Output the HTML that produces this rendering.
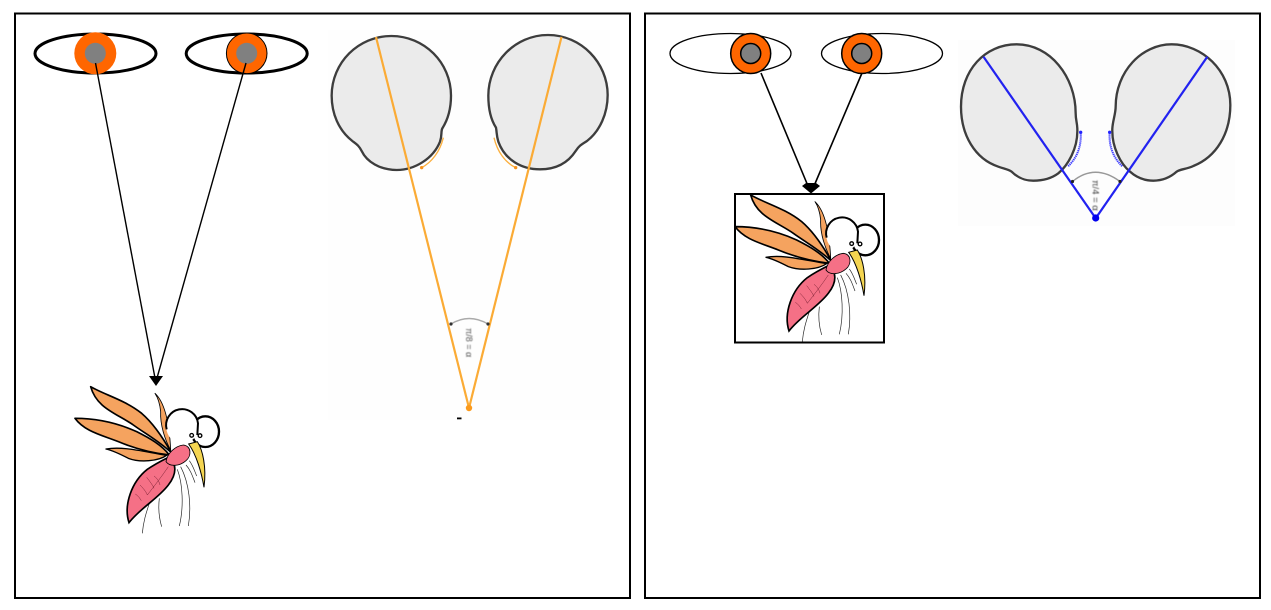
<!DOCTYPE html>
<html>
<head>
<meta charset="utf-8">
<style>
html,body{margin:0;padding:0;background:#fff;width:1271px;height:610px;overflow:hidden}
svg{display:block}
text{font-family:"Liberation Sans",sans-serif}
</style>
</head>
<body>
<svg width="1271" height="610" viewBox="0 0 1271 610" xmlns="http://www.w3.org/2000/svg">
<defs>
<filter id="b" x="-5%" y="-5%" width="110%" height="110%"><feGaussianBlur stdDeviation="0.5"/></filter>
<filter id="b2" x="-30%" y="-30%" width="160%" height="160%"><feGaussianBlur stdDeviation="0.35"/></filter>
<filter id="b3" x="-30%" y="-30%" width="160%" height="160%"><feGaussianBlur stdDeviation="0.45"/></filter>
<g id="mosq" filter="url(#b2)">
  <g stroke="#000" stroke-linejoin="round">
    <path d="M92,50 C135,75 195,90 245,130 C280,160 310,205 334,248 C295,212 262,195 220,165 C170,130 110,115 92,50Z" fill="#f5a35f" stroke-width="5"/>
    <path d="M45,145 C115,145 175,160 230,185 C270,205 305,225 328,255 C285,250 235,240 175,215 C125,195 75,185 45,145Z" fill="#f5a35f" stroke-width="5"/>
    <path d="M138,237 C190,228 250,245 320,256 C295,274 240,278 205,265 C180,252 160,242 138,237Z" fill="#f5a35f" stroke-width="4"/>
    <path d="M285,70 C312,95 328,155 332,240 C315,210 300,165 302,125 C300,105 295,85 285,70Z" fill="#f5a35f" stroke-width="2.5"/>
  </g>
  <g fill="none" stroke="#222" stroke-width="2">
    <path d="M268,400 C258,430 250,455 247,490"/>
    <path d="M298,385 C295,410 296,440 305,470"/>
    <path d="M352,298 C368,340 372,410 358,468"/>
    <path d="M362,290 C388,340 395,410 385,468"/>
    <path d="M378,285 C392,300 398,320 405,338"/>
    <path d="M388,272 C398,285 402,298 410,318"/>
  </g>
  <ellipse cx="436" cy="185" rx="41" ry="46" fill="#fff" stroke="#000" stroke-width="7"/>
  <circle cx="367" cy="172" r="48" fill="#fff"/>
  <path d="M320,178 A48,48 0 1 1 414,160 L412,195" fill="none" stroke="#000" stroke-width="6"/>
  <circle cx="395" cy="196" r="5.5" fill="#fff" stroke="#000" stroke-width="4"/>
  <circle cx="420" cy="197" r="5.5" fill="#fff" stroke="#000" stroke-width="4"/>
  <path d="M386,222 L412,215 C428,240 440,290 432,352 C425,310 410,255 386,222Z" fill="#f4d551" stroke="#000" stroke-width="3"/>
  <path d="M325,262 C350,280 352,310 325,345 C295,385 240,415 207,458 C190,405 215,335 262,298 C285,282 305,272 325,262Z" fill="#f56f86" stroke="#000" stroke-width="5"/>
  <path d="M318,275 C322,250 345,228 370,225 C395,228 395,258 378,272 C360,288 330,292 318,275Z" fill="#f56f86" stroke="#000" stroke-width="2.5"/>
  <g fill="none" stroke="#7a2233" stroke-width="1.5">
    <path d="M325,290 C305,320 285,345 262,375"/>
    <path d="M282,318 C295,328 298,338 300,345"/>
    <path d="M260,322 C270,335 278,345 282,355"/>
    <path d="M240,345 C250,355 258,365 262,375"/>
    <path d="M226,372 C235,378 240,385 244,392"/>
  </g>
</g>
</defs>

<rect width="1271" height="610" fill="#fff"/>
<rect x="15" y="13.5" width="615" height="584.5" fill="#fff" stroke="#000" stroke-width="2"/>
<rect x="645" y="13.5" width="615" height="584.5" fill="#fff" stroke="#000" stroke-width="2"/>
<rect x="328" y="30" width="282" height="390" fill="#fefefe"/>
<rect x="958" y="40" width="277" height="186" fill="#fdfdfd"/>

<!-- Left eyes -->
<ellipse cx="95.5" cy="53.5" rx="60.5" ry="19.5" fill="#fff" stroke="#000" stroke-width="3"/>
<circle cx="95.3" cy="53.3" r="21" fill="#ff6600"/>
<circle cx="95.3" cy="53.3" r="10.5" fill="#808080"/>
<ellipse cx="246.7" cy="53.5" rx="60.5" ry="19.5" fill="#fff" stroke="#000" stroke-width="3"/>
<circle cx="246.7" cy="53.3" r="20.3" fill="#ff6600" stroke="#000" stroke-width="1"/>
<circle cx="246.7" cy="53.3" r="10.5" fill="#808080"/>

<!-- Left sight lines -->
<line x1="95.5" y1="63" x2="155" y2="378" stroke="#000" stroke-width="1.4"/>
<line x1="246" y1="63" x2="157" y2="378" stroke="#000" stroke-width="1.4"/>
<polygon points="149,376 163,376 156,386" fill="#000"/>

<g transform="translate(60 370) scale(.33333)"><use href="#mosq"/></g>

<!-- Left ears -->
<g transform="translate(325 25) scale(.33333)" filter="url(#b)">
  <path d="M199,33 C298,33 378,113 378,212 C378,250 368,285 352,310 C347,320 352,330 345,350 C325,400 270,435 215,435 C165,435 125,410 110,378 C102,362 95,358 82,348 C40,315 20,265 20,212 C20,113 100,33 199,33Z" fill="#ebebeb" stroke="#3c3c3c" stroke-width="7"/>
  <path d="M669,30 C768,30 848,113 848,210 C848,265 825,318 786,348 C770,358 762,362 752,378 C730,412 695,433 645,433 C590,433 540,405 520,350 C514,330 516,325 513,308 C498,285 490,250 490,212 C490,113 570,30 669,30Z" fill="#ebebeb" stroke="#3c3c3c" stroke-width="7"/>
  <path d="M355,338 C345,380 320,412 290,428" fill="none" stroke="#fbb040" stroke-width="4"/>
  <path d="M507,338 C517,380 540,412 572,428" fill="none" stroke="#fbb040" stroke-width="4"/>
  <circle cx="290" cy="428" r="5" fill="#f7931e"/>
  <circle cx="572" cy="428" r="5" fill="#f7931e"/>
</g>
<g filter="url(#b2)">
  <line x1="376" y1="37" x2="469" y2="408" stroke="#fbab36" stroke-width="2.2"/>
  <line x1="561.5" y1="37" x2="469" y2="408" stroke="#fbab36" stroke-width="2.2"/>
  <circle cx="469" cy="408" r="3.2" fill="#fb9a1a"/>
  <path d="M451,324 Q469,313 488,324" fill="none" stroke="#aaa" stroke-width="1.4"/>
  <circle cx="451" cy="324" r="1.6" fill="#333"/>
  <circle cx="488" cy="324" r="1.6" fill="#333"/>
</g>
<g filter="url(#b3)">
  <text transform="translate(466 328) rotate(90)" font-size="9" fill="#555">π/8 = α</text>
</g>
<rect x="457" y="417.5" width="4.5" height="1.8" fill="#000"/>

<!-- Right eyes -->
<ellipse cx="730.5" cy="53.5" rx="60.5" ry="20" fill="#fff" stroke="#000" stroke-width="1.3"/>
<circle cx="750.7" cy="53.5" r="20" fill="#ff6600" stroke="#000" stroke-width="1.5"/>
<circle cx="750.7" cy="53.5" r="10" fill="#808080" stroke="#000" stroke-width="1.5"/>
<ellipse cx="882" cy="53.5" rx="60.5" ry="20" fill="#fff" stroke="#000" stroke-width="1.3"/>
<circle cx="861.7" cy="53.5" r="20" fill="#ff6600" stroke="#000" stroke-width="1.5"/>
<circle cx="861.7" cy="53.5" r="10" fill="#808080" stroke="#000" stroke-width="1.5"/>

<!-- Right box and mosquito -->
<rect x="735" y="194" width="149" height="148.5" fill="#fff" stroke="#000" stroke-width="2"/>
<g transform="translate(720 178.3) scale(.33333)"><use href="#mosq"/></g>

<!-- Right sight lines -->
<line x1="761" y1="73" x2="808" y2="186" stroke="#000" stroke-width="1.6"/>
<line x1="862" y1="73" x2="814" y2="186" stroke="#000" stroke-width="1.6"/>
<polygon points="802,186 806,183 816,183 820,186 811,193.5" fill="#000"/>

<!-- Right ears -->
<g transform="translate(955 35) scale(.33333)" filter="url(#b)">
  <path d="M185,28 C285,28 362,125 362,235 C362,258 368,265 367,290 C367,340 340,390 310,415 C290,430 265,437 235,437 C210,437 190,430 170,410 C160,403 150,402 130,395 C60,372 18,300 18,215 C18,105 90,28 185,28Z" fill="#ebebeb" stroke="#3c3c3c" stroke-width="7"/>
  <path d="M650,28 C560,28 482,110 482,215 C482,240 470,265 472,290 C472,335 495,385 525,410 C545,428 570,437 595,437 C620,437 645,428 665,410 C675,402 695,403 715,393 C785,365 826,295 826,210 C826,105 740,28 650,28Z" fill="#ebebeb" stroke="#3c3c3c" stroke-width="7"/>
  <path d="M377,292 C380,335 365,370 338,395" fill="none" stroke="#4040ff" stroke-width="6" stroke-dasharray="4 2"/>
  <path d="M464,292 C461,335 476,370 503,395" fill="none" stroke="#4040ff" stroke-width="6" stroke-dasharray="4 2"/>
  <circle cx="377" cy="292" r="5" fill="#2222ff"/>
  <circle cx="464" cy="292" r="5" fill="#2222ff"/>
</g>
<g filter="url(#b2)">
  <line x1="983.5" y1="56.7" x2="1095.7" y2="218.3" stroke="#2020f0" stroke-width="2.2"/>
  <line x1="1207.3" y1="56.7" x2="1095.7" y2="218.3" stroke="#2020f0" stroke-width="2.2"/>
  <circle cx="1095.7" cy="218" r="3.6" fill="#0000ee"/>
  <path d="M1072.5,181.5 Q1095,163 1120,181.5" fill="none" stroke="#999" stroke-width="1.4"/>
  <circle cx="1072.5" cy="181.5" r="1.6" fill="#222"/>
  <circle cx="1120" cy="181.5" r="1.6" fill="#222"/>
</g>
<g filter="url(#b3)">
  <text transform="translate(1092.5 180) rotate(90)" font-size="9.5" fill="#444">π/4 = α</text>
</g>
</svg>
</body>
</html>
